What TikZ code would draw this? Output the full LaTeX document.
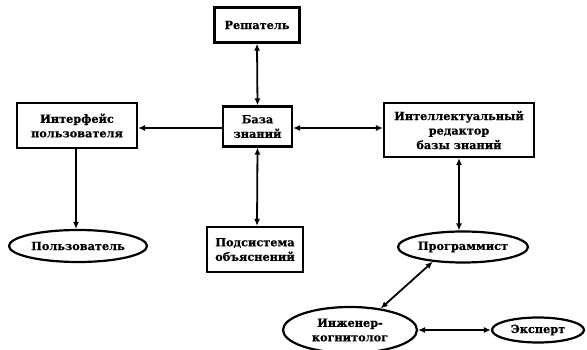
\documentclass[tikz,border=0pt]{standalone}
\usepackage{fontspec}
\setmainfont{DejaVu Serif}
\newfontfamily\lblfont{DejaVu Serif}[UprightFont={* Bold},FakeBold=0.6]
\usetikzlibrary{shapes.geometric,arrows.meta}
\begin{document}
\begin{tikzpicture}[x=1pt,y=-1pt,
  lbl/.style={font=\lblfont\fontsize{11.3}{14.5}\selectfont,align=center,inner sep=0pt},
  box/.style={lbl,draw,line width=2.2pt,rectangle},
  oval/.style={lbl,draw,line width=2.2pt,ellipse},
  con/.style={line width=1.8pt},
  tip/.style={-{Latex[length=7pt,width=6pt]}},
  both/.style={{Latex[length=7pt,width=6pt]}-{Latex[length=7pt,width=6pt]}}]
\useasboundingbox (0,0) rectangle (587,350);
\begin{scope}
\clip (0,0) rectangle (587,350);
\node[box,minimum width=85pt,minimum height=35pt] (resh) at (257,25) {Решатель};
\node[box,minimum width=69pt,minimum height=40pt] (baza) at (257.5,126.5) {База\\знаний};
\node[box,minimum width=120pt,minimum height=45pt] (intf) at (77,125.5) {Интерфейс\\пользователя};
\node[box,minimum width=150pt,minimum height=54pt] (ired) at (459,130) {Интеллектуальный\\редактор\\базы знаний};
\node[box,minimum width=96pt,minimum height=45pt] (pods) at (255,249.5) {Подсистема\\объяснений};
\node[oval,minimum width=138pt,minimum height=32pt] (polz) at (78,246) {Пользователь};
\node[oval,minimum width=130pt,minimum height=31pt] (prog) at (463,247) {Программист};
\node[oval,minimum width=134pt,minimum height=46pt] (inzh) at (350,330) {Инженер-\\когнитолог};
\node[oval,minimum width=92pt,minimum height=25pt] (eksp) at (538,330) {Эксперт};
\end{scope}
\draw[con,both] (resh.south) -- (baza.north);
\draw[con,tip] (baza.west |- 0,128) -- (intf.east |- 0,128);
\draw[con,both] (baza.east |- 0,128) -- (ired.west |- 0,128);
\draw[con,tip] (intf.south -| 76,0) -- (polz.north -| 76,0);
\draw[con,both] (baza.south) -- (pods.north -| 257,0);
\draw[con,both] (ired.south) -- (prog.north -| 459,0);
\draw[con,both] (prog.-154) -- (inzh.35);
\draw[con,both] (inzh.east) -- (eksp.west);
\end{tikzpicture}
\end{document}
